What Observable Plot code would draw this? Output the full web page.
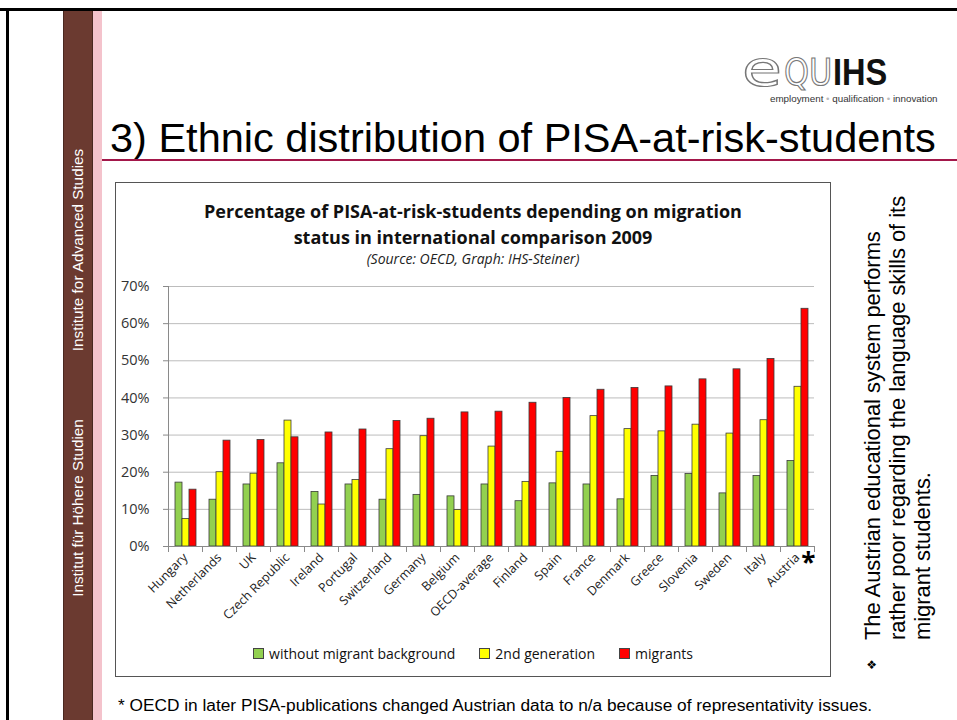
<!DOCTYPE html>
<html><head><meta charset="utf-8">
<script src="https://cdn.jsdelivr.net/npm/d3@7"></script>
<script src="https://cdn.jsdelivr.net/npm/@observablehq/plot@0.6"></script>
<style>
body{margin:0;width:957px;height:720px;position:relative;overflow:hidden;background:#fff;font-family:"Liberation Sans",Arial,sans-serif;}
.abs{position:absolute;}
.side{position:absolute;color:#fff;font-size:15.3px;white-space:nowrap;transform:translate(-50%,-50%) rotate(-90deg);}
.lg{display:inline-flex;align-items:center;margin:0 12px;}
.sw{display:inline-block;width:9px;height:9px;border:1px solid #444;margin-right:5px;}
.logo{position:absolute;white-space:nowrap;transform-origin:0 0;}
</style></head><body>
<!-- slide frame -->
<div class="abs" style="left:0;top:8px;width:957px;height:3px;background:#000"></div>
<div class="abs" style="left:6px;top:8px;width:3px;height:712px;background:#000"></div>
<div class="abs" style="left:63px;top:11px;width:30px;height:709px;background:#6b3a30;border-left:1px solid #4a2820;border-right:1px solid #4a2820;box-sizing:border-box"></div>
<div class="abs" style="left:93px;top:11px;width:9px;height:709px;background:#f4c3cc"></div>
<div class="side" style="left:78px;top:250px">Institute for Advanced Studies</div>
<div class="side" style="left:78px;top:508px">Institut für Höhere Studien</div>

<!-- logo -->
<span class="logo" style="left:742px;top:54px;font-family:'DejaVu Sans';font-size:50px;line-height:30px;height:30px;color:#fff;-webkit-text-stroke:1.2px #777;transform:scaleX(1.3)">e</span>
<span class="logo" style="left:784px;top:59px;font-family:'DejaVu Sans';font-size:37px;line-height:28px;height:28px;color:#fff;-webkit-text-stroke:1.2px #777;transform:scaleX(0.86)">QU</span>
<span class="logo" style="left:833px;top:59px;font-family:'Liberation Sans';font-weight:bold;font-size:37px;line-height:28px;height:28px;color:#111;transform:scaleX(0.88)">IHS</span>
<div class="abs" style="left:770px;top:93px;font-size:9.8px;line-height:11px;color:#333;white-space:nowrap;font-family:'Liberation Sans'">employment <span style="color:#bbb">•</span> qualification <span style="color:#bbb">•</span> innovation</div>

<!-- title -->
<div class="abs" style="left:110px;top:117px;font-size:41.5px;line-height:41px;color:#000;white-space:nowrap">3) Ethnic distribution of PISA-at-risk-students</div>
<div class="abs" style="left:102px;top:159px;width:855px;height:2px;background:#a3174a"></div>

<!-- chart box -->
<div class="abs" style="left:115px;top:182px;width:716px;height:495px;border:1px solid #555;box-sizing:border-box"></div>
<div class="abs" style="left:115px;top:198px;width:716px;text-align:center;font-family:'Open Sans';font-weight:bold;font-size:18px;line-height:26px;color:#111">Percentage of PISA-at-risk-students depending on migration<br>status in international comparison 2009</div>
<div class="abs" style="left:115px;top:249px;width:716px;text-align:center;font-family:'Open Sans';font-style:italic;font-size:14px;color:#222">(Source: OECD, Graph: IHS-Steiner)</div>
<div id="chart" class="abs" style="left:116px;top:276px"></div>
<div id="legend" class="abs" style="left:115px;top:644px;width:716px;text-align:center;font-family:'Open Sans';font-size:14px;color:#111"></div>

<!-- right comment -->
<div class="abs" style="left:860px;top:640px;transform:rotate(-90deg);transform-origin:0 0;font-size:21.9px;line-height:25px;white-space:nowrap;color:#000">The Austrian educational system performs<br>rather poor regarding the language skills of its<br>migrant students.</div>
<div class="abs" style="left:864px;top:670px;transform:rotate(-90deg);transform-origin:0 0;font-family:'DejaVu Sans';font-size:12px;line-height:16px;color:#000">❖</div>

<!-- footnote -->
<div class="abs" style="left:118px;top:697px;font-size:17.3px;line-height:17.3px;color:#000;white-space:nowrap">* OECD in later PISA-publications changed Austrian data to n/a because of representativity issues.</div>

<script>
const countries = ["Hungary","Netherlands","UK","Czech Republic","Ireland","Portugal","Switzerland","Germany","Belgium","OECD-average","Finland","Spain","France","Denmark","Greece","Slovenia","Sweden","Italy","Austria"];
const series = ["without migrant background","2nd generation","migrants"];
const withoutMigrant = [17.2,12.6,16.7,22.4,14.7,16.7,12.6,13.9,13.5,16.7,12.2,17.0,16.7,12.7,19.0,19.5,14.3,19.0,23.0];
const secondGeneration = [7.4,20.0,19.6,33.9,11.3,17.9,26.2,29.7,9.8,26.9,17.4,25.5,35.1,31.6,31.0,32.8,30.4,34.0,43.0];
const migrants = [15.3,28.5,28.7,29.4,30.7,31.5,33.8,34.4,36.1,36.3,38.7,40.0,42.2,42.7,43.1,45.0,47.7,50.5,64.0];
const colors = ["#92d050","#ffff00","#ff0000"];
const yTicks = [0,10,20,30,40,50,60,70];
const footnoteMark = [{country:"Austria", mark:"*"}];

const valuesBySeries = [withoutMigrant, secondGeneration, migrants];
const data = [];
countries.forEach((c,i) => series.forEach((s,j) => data.push({country:c, series:s, value:valuesBySeries[j][i]})));

const chart = Plot.plot({
  width: 712, height: 360,
  marginLeft: 47, marginRight: 10, marginTop: 10, marginBottom: 90,
  style: {fontFamily: "'Open Sans'", fontSize: "12.5px", color: "#222", background: "transparent", overflow: "visible"},
  fx: {domain: countries, padding: 0, label: null},
  x: {domain: series, paddingInner: 0, paddingOuter: 0.83, axis: null},
  y: {domain: [0,70], ticks: yTicks, label: null},
  color: {domain: series, range: colors},
  marks: [
    Plot.ruleY(yTicks.filter(d => d > 0), {stroke: "#bcbcbc", strokeWidth: 1}),
    Plot.barY(data, {fx: "country", x: "series", y: "value", fill: "series", stroke: "#3a3a3a", strokeWidth: 0.8}),
    Plot.ruleY([0], {stroke: "#8a8a8a"}),
    Plot.frame({anchor: "left", stroke: "#8a8a8a", insetTop: 260, insetBottom: -5}),
    Plot.frame({anchor: "right", facet: "super", stroke: "#8a8a8a", insetTop: 260, insetBottom: -5}),
    Plot.frame({anchor: "left", facet: "super", stroke: "#8a8a8a"}),
    Plot.axisY({ticks: yTicks, tickFormat: d => d + "%", tickSize: 5, tickPadding: 14, fontSize: 14.5, stroke: "#8a8a8a", fill: "#333"}),
    Plot.axisFx({anchor: "bottom", tickRotate: -45, tickSize: 0, tickPadding: 9, label: null, fontSize: 12.5, fill: "#222"}),
    Plot.text(footnoteMark, {fx: "country", text: "mark", frameAnchor: "bottom-right", dy: 25, dx: 1, fontSize: 26, fontWeight: "bold", fill: "#000"})
  ]
});
document.getElementById("chart").appendChild(chart);

const lg = document.getElementById("legend");
series.forEach((s,i) => {
  const item = document.createElement("span");
  item.className = "lg";
  item.innerHTML = `<span class="sw" style="background:${colors[i]}"></span>${s}`;
  lg.appendChild(item);
});
</script>
</body></html>
